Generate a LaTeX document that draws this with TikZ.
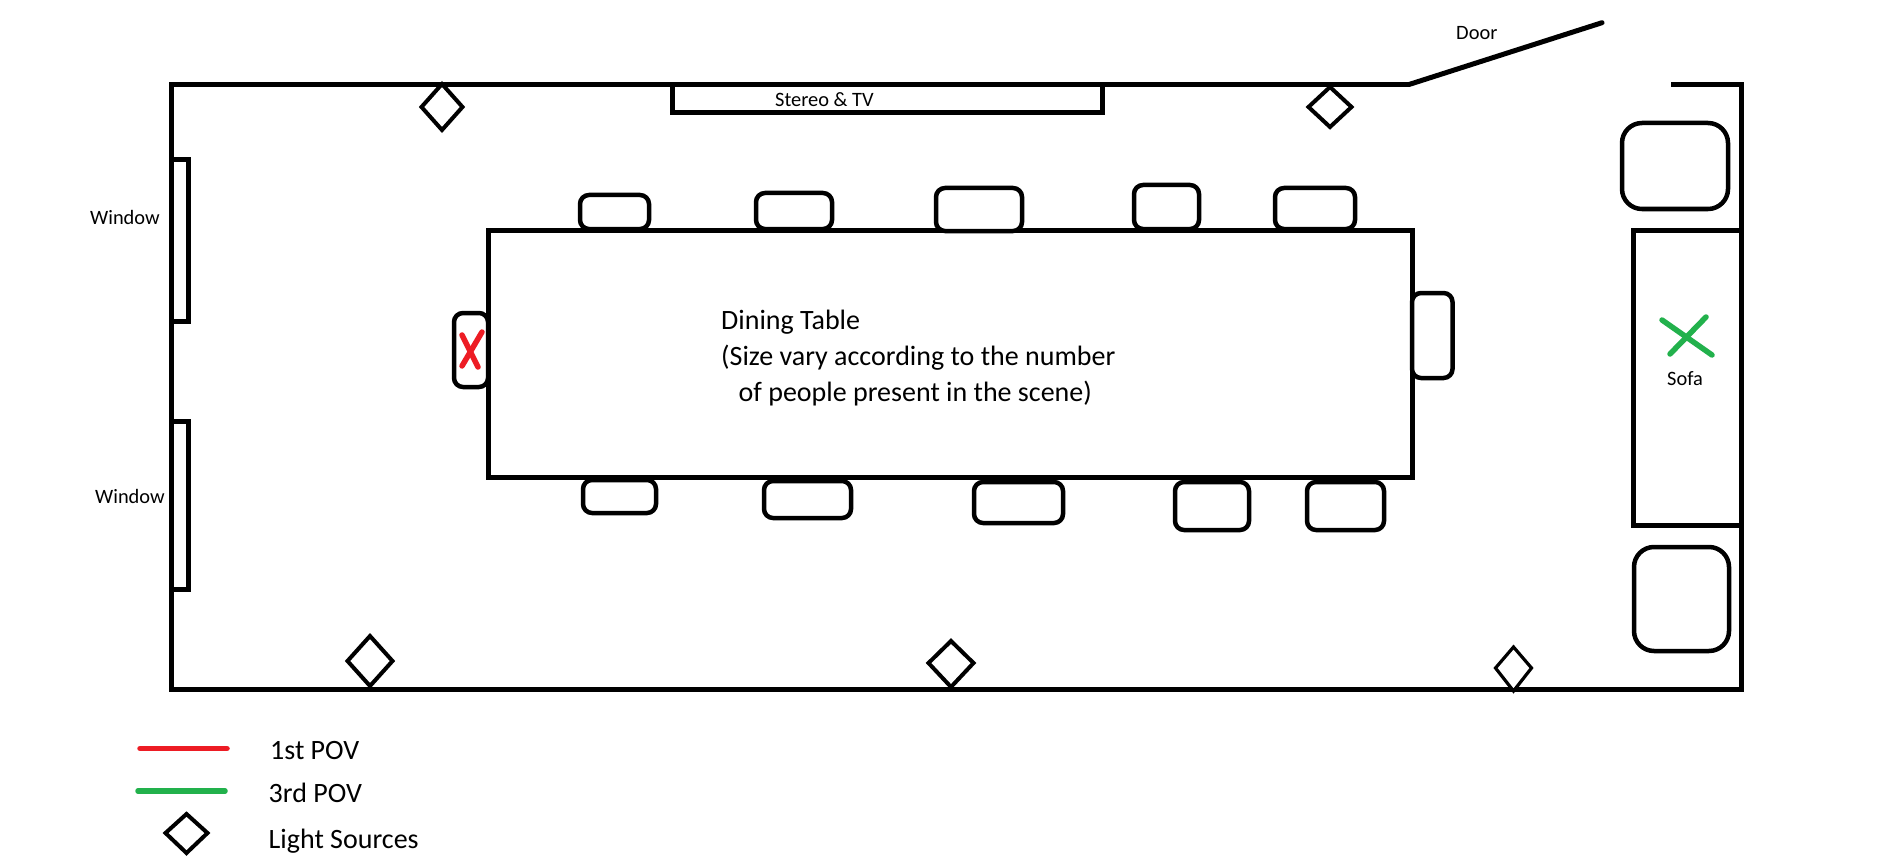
\documentclass[tikz,border=0pt]{standalone}
\usepackage{fontspec}
\setmainfont{Carlito}
\definecolor{povred}{HTML}{ED1C24}
\definecolor{povgreen}{HTML}{22B14C}
\tikzset{
  wall/.style={draw=black,line width=5pt,line join=miter},
  chair/.style={draw=black,fill=white,line width=4.5pt,rounded corners=9pt},
  cushion/.style={draw=black,fill=white,line width=4.5pt,rounded corners=20pt},
  lamp/.style={draw=black,fill=white,line width=4pt,line join=miter,miter limit=10},
  povline/.style={line width=5.5pt,line cap=round},
  small/.style={inner sep=0pt,anchor=base west,font=\fontsize{20.4}{24}\selectfont},
  big/.style={inner sep=0pt,anchor=base west,font=\fontsize{28}{36.2}\selectfont},
}
\newcommand{\lampat}[6]{% left right top bottom midy lw
  \pgfmathsetmacro{\cxv}{(#1+#2)/2}
  \draw[lamp,line width=#6pt] (#1+2.5,#5) -- (\cxv,#3+2) -- (#2-2.5,#5) -- (\cxv,#4-2) -- cycle;
}
\begin{document}
\begin{tikzpicture}[x=1pt,y=-1pt]
\useasboundingbox (0,0) rectangle (1889,861);
\fill[white] (0,0) rectangle (1889,861);
% room
\draw[wall] (1409,84.5) -- (171.5,84.5) -- (171.5,689.5) -- (1741.5,689.5) -- (1741.5,84.5) -- (1671,84.5);
\draw[wall,line cap=round] (1409,84.5) -- (1602,22.7);
% stereo
\draw[wall] (672,84.5) -- (672,112.8) -- (1102,112.8) -- (1102,84.5);
% windows
\draw[wall,fill=white] (171.5,160) rectangle (188,321);
\draw[wall,fill=white] (171.5,421) rectangle (188,589);
% table
\draw[wall,fill=white] (488,230) rectangle (1412,477.7);
% chairs
\draw[chair] (580,195) rectangle (649,229);
\draw[chair] (756,193) rectangle (832,229);
\draw[chair] (936,188) rectangle (1022,231);
\draw[chair] (1134,185) rectangle (1199,229);
\draw[chair] (1275,188) rectangle (1355,229);
\draw[chair] (583,480) rectangle (656,513);
\draw[chair] (764,481) rectangle (851,518);
\draw[chair] (974,482) rectangle (1063,523);
\draw[chair] (1175,482) rectangle (1249,530);
\draw[chair] (1307,482) rectangle (1384,530);
\draw[chair] (454,313) rectangle (488,387);
\draw[chair] (1412,293) rectangle (1452.5,378);
% sofa
\draw[wall] (1741.5,230) -- (1633,230) -- (1633,525) -- (1741.5,525);
\draw[cushion] (1622,123) rectangle (1728,209);
\draw[cushion] (1634,547) rectangle (1729,651);
% pov marks
\draw[povline,povred] (462,335) -- (478,367);
\draw[povline,povred] (482,332) -- (462,366);
\draw[povline,povgreen] (1662,320) -- (1712,355);
\draw[povline,povgreen] (1706,317) -- (1670,354);
% lamps
\lampat{419}{465}{82}{132}{107}{4}
\lampat{1306}{1354}{85}{129}{107}{4}
\lampat{345}{395}{634}{688}{661}{4}
\lampat{926}{976}{639}{689}{663}{4}
\lampat{1493}{1534}{645}{693}{668}{3.2}
\lampat{163}{210}{812}{855}{833}{4}
% legend
\coordinate (ra) at (140,748.5); \coordinate (rb) at (227,748.5);
\coordinate (ga) at (138,791); \coordinate (gb) at (225,791);
\draw[povline,povred] (ra) -- (rb);
\draw[povline,povgreen] (ga) -- (gb);
% labels
\node[small] (win1) at (90,224.5) {Window};
\node[small] (win2) at (95,503.5) {Window};
\node[small] (stereo) at (775,106.5) {Stereo \& TV};
\node[small] (door) at (1456,40) {Door};
\node[small] (sofa) at (1667,385.5) {Sofa};
\node[big,anchor=north west,align=left] (dining) at (721,309.5) {Dining Table\\(Size vary according to the number\\\hspace*{17.5pt}of people present in the scene)};
\node[big] (pov1) at (270,759.5) {1st POV};
\node[big] (pov3) at (268.5,802.5) {3rd POV};
\node[big] (lights) at (268.5,848.5) {Light Sources};
\end{tikzpicture}
\end{document}
